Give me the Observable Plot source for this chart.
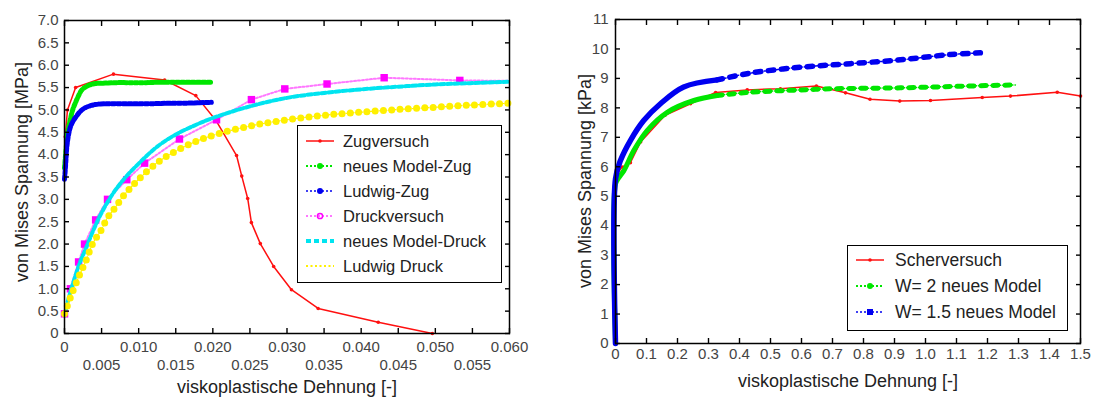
<!DOCTYPE html>
<html>
<head>
<meta charset="utf-8">
<script src="https://cdn.jsdelivr.net/npm/d3@7"></script>
<script src="https://cdn.jsdelivr.net/npm/@observablehq/plot@0.6"></script>
<style>
  html, body { margin: 0; padding: 0; background: #fff; }
  #wrap { position: relative; width: 1096px; height: 401px; overflow: hidden; background: #fff;
          font-family: "Liberation Sans", Arial, sans-serif; color: #222; }
  .panel { position: absolute; top: 0; }
  .title { position: absolute; font-size: 18px; white-space: nowrap; color: #222; }
  .ytitle { transform: translate(-50%, -50%) rotate(-90deg); }
  .xtitle { transform: translate(-50%, -50%); }
  .legend { position: absolute; border: 1.5px solid #000; background: #fff; box-sizing: border-box; }
  .row { position: absolute; left: 0; height: 24px; display: flex; align-items: center; white-space: nowrap; color: #222; }
  .row svg { position: absolute; top: 6px; }
</style>
</head>
<body>
<div id="wrap">
  <div id="left" class="panel" style="left:0px"></div>
  <div id="right" class="panel" style="left:540px"></div>
</div>
<script>
// ---------------- LEFT CHART DATA ----------------
const leftXTicks = [0,0.005,0.01,0.015,0.02,0.025,0.03,0.035,0.04,0.045,0.05,0.055,0.06];
const leftXRow1 = [0,0.01,0.02,0.03,0.04,0.05,0.06];
const leftXRow1Labels = ["0","0.010","0.020","0.030","0.040","0.050","0.060"];
const leftXRow2 = [0.005,0.015,0.025,0.035,0.045,0.055];
const leftXRow2Labels = ["0.005","0.015","0.025","0.035","0.045","0.055"];
const leftYTicks = [0,0.5,1,1.5,2,2.5,3,3.5,4,4.5,5,5.5,6,6.5,7];
const leftYLabels = ["0","0.5","1.0","1.5","2.0","2.5","3.0","3.5","4.0","4.5","5.0","5.5","6.0","6.5","7.0"];

const zugX = [0.0001,0.0004,0.0015,0.0066,0.0135,0.0177,0.0204,0.0232,0.0239,0.0247,0.0252,0.0264,0.0282,0.0306,0.0342,0.0423,0.0496];
const zugY = [4.4,5.0,5.5,5.8,5.67,5.32,4.77,3.98,3.52,3.02,2.48,2.01,1.50,0.98,0.56,0.25,0];

const modelZugX = [0,0.0002,0.0004,0.0006,0.0008,0.0011,0.0015,0.0019,0.0023,0.0028,0.0034,0.0042,0.0055,0.007,0.009,0.011,0.013,0.015,0.017,0.0198];
const modelZugY = [3.7,4.1,4.45,4.65,4.8,5.0,5.17,5.32,5.44,5.51,5.56,5.59,5.6,5.61,5.61,5.61,5.62,5.62,5.62,5.62];

const ludwigZugX = [0,0.0001,0.0002,0.0003,0.0005,0.0008,0.0012,0.0017,0.0022,0.0028,0.0036,0.0046,0.006,0.008,0.01,0.012,0.014,0.016,0.018,0.0198];
const ludwigZugY = [3.45,3.65,3.9,4.15,4.4,4.62,4.76,4.88,4.98,5.05,5.1,5.13,5.14,5.14,5.14,5.14,5.15,5.15,5.16,5.17];

const druckX = [0,0.0008,0.0019,0.0027,0.0042,0.0058,0.0084,0.0108,0.0155,0.0205,0.0252,0.0297,0.0354,0.0431,0.0533,0.06];
const druckY = [0.44,1.0,1.6,2.0,2.54,3.0,3.44,3.81,4.35,4.78,5.23,5.47,5.58,5.72,5.66,5.65];

const modelDruckX = [0,0.0005,0.001,0.002,0.003,0.004,0.005,0.0065,0.008,0.01,0.0125,0.015,0.0175,0.02,0.025,0.03,0.035,0.04,0.045,0.05,0.055,0.06];
const modelDruckY = [0.4,0.75,1.04,1.55,1.95,2.35,2.7,3.12,3.45,3.8,4.18,4.45,4.65,4.82,5.08,5.27,5.38,5.46,5.52,5.57,5.6,5.63];

const ludwigDruckX = [0,0.0009,0.0019,0.0029,0.0038,0.0049,0.0058,0.0069,0.0078,0.0088,0.01,0.0125,0.015,0.0175,0.02,0.025,0.03,0.035,0.04,0.045,0.05,0.055,0.06];
const ludwigDruckY = [0.44,0.85,1.26,1.63,2.01,2.30,2.59,2.83,3.05,3.24,3.45,3.82,4.08,4.28,4.43,4.64,4.78,4.88,4.95,5.01,5.06,5.11,5.15];

const leftLegendNames = ["Zugversuch","neues Model-Zug","Ludwig-Zug","Druckversuch","neues Model-Druck","Ludwig Druck"];

// ---------------- RIGHT CHART DATA ----------------
const rightXTicks = [0,0.1,0.2,0.3,0.4,0.5,0.6,0.7,0.8,0.9,1.0,1.1,1.2,1.3,1.4,1.5];
const rightXLabels = ["0","0.1","0.2","0.3","0.4","0.5","0.6","0.7","0.8","0.9","1.0","1.1","1.2","1.3","1.4","1.5"];
const rightYTicks = [0,1,2,3,4,5,6,7,8,9,10,11];
const rightYLabels = ["0","1","2","3","4","5","6","7","8","9","10","11"];

const scherX = [0,0.005,0.021,0.048,0.081,0.16,0.242,0.323,0.425,0.532,0.648,0.742,0.821,0.917,1.016,1.183,1.274,1.425,1.5];
const scherY = [5.6,5.75,5.99,6.14,6.84,7.75,8.14,8.52,8.61,8.65,8.74,8.51,8.29,8.23,8.25,8.35,8.40,8.53,8.40];

const w2X = [0,0,0.01,0.027,0.059,0.102,0.167,0.253,0.328,0.435,0.597,0.704,0.919,1.134,1.29];
const w2Y = [0,5.42,5.62,5.87,6.55,7.23,7.85,8.25,8.42,8.53,8.61,8.65,8.68,8.74,8.78];

const w15X = [0,0,0.016,0.048,0.091,0.145,0.22,0.328,0.435,0.597,0.758,0.919,1.08,1.177];
const w15Y = [0,5.59,6.21,6.89,7.57,8.14,8.71,8.95,9.18,9.38,9.50,9.63,9.81,9.87];

const rightLegendNames = ["Scherversuch","W= 2 neues Model","W= 1.5 neues Model"];

// ---------------- COLOURS ----------------
const RED = "#ff1010", GREEN = "#00e600", BLUE = "#0000f0", MAGENTA = "#ff00ff", PINK = "#ff77ff", CYAN = "#00e4f0", YELLOW = "#fff000";

const pts = (xs, ys) => xs.map((x, i) => ({x, y: ys[i]}));
const lab = (vals, labels) => d => labels[vals.indexOf(d)] ?? "";
const FONT = "'Liberation Sans', Arial, Helvetica, sans-serif";

function frameTicks(xt, yt) {
  const t = {tickFormat: () => "", label: null, stroke: "#000", strokeWidth: 1.4, tickSize: 5};
  return [
    Plot.axisX(xt, {...t, anchor: "bottom", dy: -5}),
    Plot.axisX(xt, {...t, anchor: "top", dy: 5}),
    Plot.axisY(yt, {...t, anchor: "left", dx: 5}),
    Plot.axisY(yt, {...t, anchor: "right", dx: -5})
  ];
}

// ---------------- LEFT PLOT ----------------
const zug = pts(zugX, zugY), mZug = pts(modelZugX, modelZugY), lZug = pts(ludwigZugX, ludwigZugY);
const druck = pts(druckX, druckY), mDruck = pts(modelDruckX, modelDruckY), lDruck = pts(ludwigDruckX, ludwigDruckY);

const leftPlot = Plot.plot({
  width: 540, height: 401,
  marginLeft: 64, marginRight: 31, marginTop: 20, marginBottom: 68,
  x: {domain: [0, 0.06]},
  y: {domain: [0, 7]},
  style: {fontFamily: FONT, fontSize: "15px", color: "#444", background: "transparent"},
  marks: [
    Plot.line(zug, {x: "x", y: "y", stroke: RED, strokeWidth: 1.5}),
    Plot.dot(zug, {x: "x", y: "y", r: 1.8, fill: RED}),
    Plot.line(mZug, {x: "x", y: "y", stroke: GREEN, strokeWidth: 1.2, strokeDasharray: "2 2", curve: "catmull-rom"}),
    Plot.line(mZug, {x: "x", y: "y", stroke: GREEN, strokeWidth: 5, strokeDasharray: "3.2 2", curve: "catmull-rom"}),
    Plot.line(lZug, {x: "x", y: "y", stroke: BLUE, strokeWidth: 1.2, strokeDasharray: "2 2", curve: "catmull-rom"}),
    Plot.line(lZug, {x: "x", y: "y", stroke: BLUE, strokeWidth: 5, strokeDasharray: "3.5 2", curve: "catmull-rom"}),
    Plot.line(druck, {x: "x", y: "y", stroke: PINK, strokeWidth: 2, strokeDasharray: "2 2"}),
    Plot.dot(druck.filter(d => d.x < 0.06), {x: "x", y: "y", symbol: "square", r: 4.2, fill: MAGENTA}),
    Plot.line(mDruck, {x: "x", y: "y", stroke: CYAN, strokeWidth: 4, strokeDasharray: "4.5 2.5", curve: "catmull-rom"}),
    Plot.line(lDruck, {x: "x", y: "y", stroke: YELLOW, strokeWidth: 1.2, strokeDasharray: "1.5 1.5", curve: "catmull-rom"}),
    Plot.line(lDruck, {x: "x", y: "y", stroke: YELLOW, strokeWidth: 7, strokeDasharray: "0 8.3", strokeLinecap: "round", curve: "catmull-rom"}),
    Plot.frame({stroke: "#000", strokeWidth: 1.5}),
    ...frameTicks(leftXTicks, leftYTicks),
    Plot.axisX(leftXRow1, {anchor: "bottom", tickSize: 0, tickPadding: 8, tickFormat: lab(leftXRow1, leftXRow1Labels), label: null}),
    Plot.axisX(leftXRow2, {anchor: "bottom", tickSize: 0, tickPadding: 26, tickFormat: lab(leftXRow2, leftXRow2Labels), label: null}),
    Plot.axisY(leftYTicks, {anchor: "left", tickSize: 0, tickPadding: 6, tickFormat: lab(leftYTicks, leftYLabels), label: null})
  ]
});
document.getElementById("left").appendChild(leftPlot);

// ---------------- RIGHT PLOT ----------------
const scher = pts(scherX, scherY), w2 = pts(w2X, w2Y), w15 = pts(w15X, w15Y);
const split = 0.328;
const rightPlot = Plot.plot({
  width: 556, height: 401,
  marginLeft: 75, marginRight: 16, marginTop: 19, marginBottom: 58,
  x: {domain: [0, 1.5]},
  y: {domain: [0, 11]},
  style: {fontFamily: FONT, fontSize: "15px", color: "#444", background: "transparent"},
  marks: [
    Plot.line(scher, {x: "x", y: "y", stroke: RED, strokeWidth: 1.5}),
    Plot.dot(scher, {x: "x", y: "y", r: 1.8, fill: RED}),
    Plot.line(w2, {x: "x", y: "y", stroke: GREEN, strokeWidth: 1.5, strokeDasharray: "2 2", curve: "catmull-rom"}),
    Plot.line(w2.filter(d => d.x <= split), {x: "x", y: "y", stroke: GREEN, strokeWidth: 5, curve: "catmull-rom"}),
    Plot.line(w2.filter(d => d.x >= split), {x: "x", y: "y", stroke: GREEN, strokeWidth: 5, strokeDasharray: "5 7", curve: "catmull-rom"}),
    Plot.line(w15, {x: "x", y: "y", stroke: BLUE, strokeWidth: 1.5, strokeDasharray: "3 2 1 2", curve: "catmull-rom"}),
    Plot.line(w15.filter(d => d.x <= split), {x: "x", y: "y", stroke: BLUE, strokeWidth: 5.5, curve: "catmull-rom"}),
    Plot.line(w15.filter(d => d.x >= split), {x: "x", y: "y", stroke: BLUE, strokeWidth: 5.5, strokeDasharray: "5.5 7.5", curve: "catmull-rom"}),
    Plot.frame({stroke: "#000", strokeWidth: 1.5}),
    ...frameTicks(rightXTicks, rightYTicks),
    Plot.axisX(rightXTicks, {anchor: "bottom", tickSize: 0, tickPadding: 5, tickFormat: lab(rightXTicks, rightXLabels), label: null}),
    Plot.axisY(rightYTicks, {anchor: "left", tickSize: 0, tickPadding: 7, tickFormat: lab(rightYTicks, rightYLabels), label: null})
  ]
});
document.getElementById("right").appendChild(rightPlot);

// ---------------- TITLES ----------------
const wrap = document.getElementById("wrap");
function addTitle(text, cls, x, y) {
  const d = document.createElement("div");
  d.className = "title " + cls;
  d.style.left = x + "px"; d.style.top = y + "px";
  d.textContent = text;
  wrap.appendChild(d);
}
addTitle("von Mises Spannung [MPa]", "ytitle", 22, 172);
addTitle("viskoplastische Dehnung [-]", "xtitle", 287, 387);
addTitle("von Mises Spannung [kPa]", "ytitle", 585, 181);
addTitle("viskoplastische Dehnung [-]", "xtitle", 848, 381);

// ---------------- LEGENDS ----------------
const NS = "http://www.w3.org/2000/svg";
function swatch(kind) {
  const s = document.createElementNS(NS, "svg");
  s.setAttribute("width", 30); s.setAttribute("height", 12);
  const line = (stroke, w, dash, cap) => {
    const l = document.createElementNS(NS, "line");
    l.setAttribute("x1", 1); l.setAttribute("x2", 29); l.setAttribute("y1", 6); l.setAttribute("y2", 6);
    l.setAttribute("stroke", stroke); l.setAttribute("stroke-width", w);
    if (dash) l.setAttribute("stroke-dasharray", dash);
    if (cap) l.setAttribute("stroke-linecap", cap);
    s.appendChild(l);
  };
  const mark = (tag, attrs) => {
    const m = document.createElementNS(NS, tag);
    for (const k in attrs) m.setAttribute(k, attrs[k]);
    s.appendChild(m);
  };
  switch (kind) {
    case "red": line(RED, 1.5); mark("circle", {cx: 15, cy: 6, r: 1.8, fill: RED}); break;
    case "green": line(GREEN, 1.8, "2 2"); mark("circle", {cx: 15, cy: 6, r: 3, fill: GREEN}); break;
    case "blue": line(BLUE, 1.5, "2 2"); mark("circle", {cx: 15, cy: 6, r: 3, fill: BLUE}); break;
    case "blueSq": line(BLUE, 1.5, "2 2"); mark("rect", {x: 12, y: 3, width: 6, height: 6, fill: BLUE}); break;
    case "magenta": line(PINK, 2, "2 2"); mark("circle", {cx: 15, cy: 6, r: 2.6, fill: "none", stroke: MAGENTA, "stroke-width": 1.5}); break;
    case "cyan": line(CYAN, 4, "5 3"); break;
    case "yellow": line(YELLOW, 2, "2 2.5"); break;
  }
  return s;
}
function addLegend(names, kinds, box, rowH, padTop, swX, txtX, fontSize) {
  const lg = document.createElement("div");
  lg.className = "legend";
  Object.assign(lg.style, {left: box[0] + "px", top: box[1] + "px", width: box[2] + "px", height: box[3] + "px"});
  names.forEach((n, i) => {
    const r = document.createElement("div");
    r.className = "row";
    r.style.top = (padTop + i * rowH) + "px";
    r.style.fontSize = fontSize + "px";
    const sw = swatch(kinds[i]);
    sw.style.left = swX + "px";
    r.appendChild(sw);
    const t = document.createElement("span");
    t.textContent = n;
    t.style.marginLeft = txtX + "px";
    r.appendChild(t);
    lg.appendChild(r);
  });
  wrap.appendChild(lg);
}
addLegend(leftLegendNames, ["red","green","blue","magenta","cyan","yellow"], [297, 125, 205, 158], 25, 3, 7, 45, 16.5);
addLegend(rightLegendNames, ["red","green","blueSq"], [847, 245, 221, 86], 26, 2, 7, 47, 17.5);
</script>
</body>
</html>
